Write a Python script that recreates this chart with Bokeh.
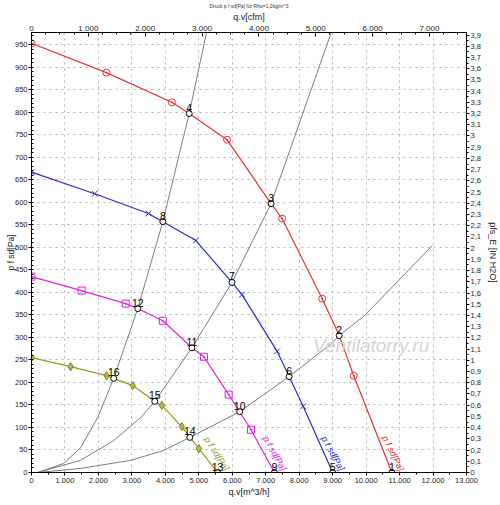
import math
from bokeh.plotting import figure
from bokeh.models import Range1d, LinearAxis, FixedTicker, Label
from bokeh.core.properties import value
from bokeh.embed import file_html
from bokeh.resources import INLINE

# ---- data (q_v in m^3/h, p in Pa) ----
red_q = [0, 2237, 4194, 4713, 5842, 7160, 7489, 8688, 9197, 9630, 10770]
red_p = [953, 888, 822, 797, 739, 597, 564, 386, 304, 215, 0]
red_mq = [0, 2237, 4194, 5842, 7489, 8688, 9630]
red_mp = [953, 888, 822, 739, 564, 386, 215]

blue_q = [0, 1887, 3495, 3925, 4913, 5992, 6291, 7340, 7699, 8119, 9000]
blue_p = [667, 619, 575, 557, 515, 422, 395, 269, 213, 147, 0]
blue_mq = [0, 1887, 3495, 4913, 6291, 7340, 8119]
blue_mp = [667, 619, 575, 515, 395, 269, 147]

mag_q = [0, 1498, 2816, 3176, 3925, 4793, 5153, 5892, 6222, 6561, 7260]
mag_p = [435, 404, 375, 364, 337, 277, 257, 173, 135, 95, 0]
mag_mq = [0, 1498, 2816, 3925, 5153, 5892, 6561]
mag_mp = [435, 404, 375, 337, 257, 173, 95]

olv_q = [0, 1168, 2247, 2457, 3026, 3685, 3895, 4493, 4733, 5003, 5560]
olv_p = [255, 235, 215, 209, 193, 158, 149, 102, 78, 53, 0]
olv_mq = [0, 1168, 2247, 3026, 3895, 4493, 5003]
olv_mp = [255, 235, 215, 193, 149, 102, 53]

# system curves (grey)
sysA_q = [180, 959, 1468, 1977, 2457, 3176, 3925, 4713, 5230]
sysA_p = [0, 20, 55, 122, 209, 364, 557, 797, 977]
sysB_q = [180, 1468, 2457, 3265, 3685, 4793, 5992, 7160, 8958]
sysB_p = [0, 27, 71, 122, 158, 277, 422, 597, 977]
sysC_q = [180, 1468, 2966, 3955, 4733, 6222, 7699, 8958, 9197, 9946, 10965, 11980]
sysC_p = [0, 9, 27, 49, 78, 135, 213, 286, 304, 348, 426, 504]

# operating points
pt_num = ["1", "2", "3", "4", "5", "6", "7", "8", "9", "10", "11", "12", "13", "14", "15", "16"]
pt_q = [10770, 9197, 7160, 4713, 9000, 7699, 5992, 3925, 7260, 6222, 4793, 3176, 5560, 4733, 3685, 2457]
pt_p = [0, 304, 597, 797, 0, 213, 422, 557, 0, 135, 277, 364, 0, 78, 158, 209]

# axes
x_ticks = [0, 1000, 2000, 3000, 4000, 5000, 6000, 7000, 8000, 9000, 10000, 11000, 12000, 13000]
x_labels = ["0", "1.000", "2.000", "3.000", "4.000", "5.000", "6.000", "7.000", "8.000",
            "9.000", "10.000", "11.000", "12.000", "13.000"]
cfm_ticks = [0, 1000, 2000, 3000, 4000, 5000, 6000, 7000]
cfm_labels = ["0", "1.000", "2.000", "3.000", "4.000", "5.000", "6.000", "7.000"]
y_ticks = [0, 50, 100, 150, 200, 250, 300, 350, 400, 450, 500, 550, 600, 650, 700, 750, 800, 850, 900, 950]
in_ticks = [0.0, 0.1, 0.2, 0.3, 0.4, 0.5, 0.6, 0.7, 0.8, 0.9, 1.0, 1.1, 1.2, 1.3, 1.4, 1.5, 1.6, 1.7, 1.8, 1.9,
            2.0, 2.1, 2.2, 2.3, 2.4, 2.5, 2.6, 2.7, 2.8, 2.9, 3.0, 3.1, 3.2, 3.3, 3.4, 3.5, 3.6, 3.7, 3.8, 3.9]
in_labels = ["0", "0,1", "0,2", "0,3", "0,4", "0,5", "0,6", "0,7", "0,8", "0,9",
             "1", "1,1", "1,2", "1,3", "1,4", "1,5", "1,6", "1,7", "1,8", "1,9",
             "2", "2,1", "2,2", "2,3", "2,4", "2,5", "2,6", "2,7", "2,8", "2,9",
             "3", "3,1", "3,2", "3,3", "3,4", "3,5", "3,6", "3,7", "3,8", "3,9"]

X_MAX = 13000
Y_MAX = 977
M3H_PER_CFM = 1.69901
PA_PER_INH2O = 249.089

FONT = "Liberation Sans"
RED = "#e8322e"
BLUE = "#2a2ad0"
MAG = "#e020e0"
OLV = "#9a9a1e"
GREY = "#7c7c7c"

p = figure(width=500, height=505, x_range=Range1d(0, X_MAX), y_range=Range1d(0, Y_MAX),
           output_backend="svg", toolbar_location=None,
           title="Druck p f sd[Pa] für Rho=1,2kg/m^3",
           min_border_left=31, min_border_right=34, min_border_top=32, min_border_bottom=33)
p.outline_line_color = "black"
p.outline_line_width = 1
p.background_fill_color = "white"
p.border_fill_color = "white"
p.title.text_font = FONT
p.title.text_font_size = "5px"
p.title.text_font_style = "normal"
p.title.text_color = "#333333"
p.title.align = "center"
p.title.standoff = 0
p.title.offset = 0

p.extra_x_ranges = {"cfm": Range1d(0, X_MAX / M3H_PER_CFM)}
p.extra_y_ranges = {"inh2o": Range1d(0, Y_MAX / PA_PER_INH2O)}


def style_axis(ax, label):
    ax.axis_line_color = "black"
    ax.major_tick_line_color = "black"
    ax.minor_tick_line_color = "black"
    ax.major_label_text_font = FONT
    ax.major_label_text_font_size = "7.5px"
    ax.major_label_text_color = "#222222"
    ax.major_label_standoff = 2
    ax.axis_label = label
    ax.axis_label_text_font = FONT
    ax.axis_label_text_font_size = "9px"
    ax.axis_label_text_font_style = "normal"
    ax.axis_label_text_color = "#222222"
    ax.axis_label_standoff = 2


xa = p.xaxis[0]
xa.ticker = FixedTicker(ticks=x_ticks, minor_ticks=list(range(0, 13001, 500)))
xa.major_label_overrides = dict(zip(x_ticks, x_labels))
style_axis(xa, "q.v[m^3/h]")
xa.major_tick_out = 3
xa.major_tick_in = 0
xa.minor_tick_out = 2
xa.minor_tick_in = 0
xa.axis_label_standoff = 1

ya = p.yaxis[0]
ya.ticker = FixedTicker(ticks=y_ticks, minor_ticks=list(range(0, 980, 10)))
style_axis(ya, "p f sd[Pa]")
ya.major_tick_out = 3
ya.major_tick_in = 0
ya.minor_tick_out = 0
ya.minor_tick_in = 2
ya.major_label_standoff = 1
ya.axis_label_standoff = -4
ya.axis_label_text_font_size = "8.5px"

top = LinearAxis(x_range_name="cfm")
top.ticker = FixedTicker(ticks=cfm_ticks, minor_ticks=list(range(0, 7700, 250)))
top.major_label_overrides = dict(zip(cfm_ticks, cfm_labels))
style_axis(top, "q.v[cfm]")
top.major_label_text_font_size = "8px"
top.major_tick_out = 0
top.major_tick_in = 4
top.minor_tick_out = 0
top.minor_tick_in = 2
top.major_label_standoff = 2
top.axis_label_standoff = 1
p.add_layout(top, "above")

right = LinearAxis(y_range_name="inh2o")
right.ticker = FixedTicker(ticks=in_ticks, minor_ticks=[i * 0.05 for i in range(0, 79)])
right.major_label_overrides = dict(zip(in_ticks, in_labels))
style_axis(right, "pfs_E [IN H2O]")
right.major_tick_out = 3
right.major_tick_in = 0
right.minor_tick_out = 2
right.minor_tick_in = 0
right.major_label_standoff = 1
right.axis_label_standoff = 4
right.axis_label_orientation = "vertical"
p.add_layout(right, "right")

p.xgrid.grid_line_color = "#b4b4b4"
p.xgrid.grid_line_dash = "2 4"
p.ygrid.grid_line_color = "#b4b4b4"
p.ygrid.grid_line_dash = "2 4"

# watermark
p.add_layout(Label(x=10150, y=282, text="Ventilatorry.ru", text_font=FONT, text_font_size="19px",
                   text_font_style="italic", text_color="#d4d4d4", text_align="center",
                   text_baseline="middle"))

# system curves
for q, pv in [(sysA_q, sysA_p), (sysB_q, sysB_p), (sysC_q, sysC_p)]:
    p.line(q, pv, line_color=GREY, line_width=1)

# fan curves
p.line(red_q, red_p, line_color=RED, line_width=1.2)
p.line(blue_q, blue_p, line_color=BLUE, line_width=1.2)
p.line(mag_q, mag_p, line_color=MAG, line_width=1.2)
p.line(olv_q, olv_p, line_color=OLV, line_width=1.2)

p.scatter(red_mq, red_mp, marker="circle_dot", size=7, line_color=RED, fill_color=None)
p.scatter(blue_mq, blue_mp, marker="x", size=8, line_color=BLUE)
p.scatter(mag_mq, mag_mp, marker="square_dot", size=7, line_color=MAG, fill_color=None)
p.scatter(olv_mq, olv_mp, marker="diamond", size=8, line_color="#7f7f10", fill_color="#b8b84a")

# curve labels along the ends
ends_q = [red_q[-1], blue_q[-1], mag_q[-1], olv_q[-1]]
ends_p = [red_p[-1], blue_p[-1], mag_p[-1], olv_p[-1]]
ang = [-64, -61, -61, -58]
for q0, p0, a, c in zip(ends_q, ends_p, ang, [RED, BLUE, MAG, OLV]):
    p.text(x=[q0], y=[p0], text=["p f sd[Pa]"], angle=a * math.pi / 180, x_offset=5,
           text_align="right", text_baseline="bottom", text_color=c,
           text_font=value(FONT), text_font_size="9px", text_font_style="italic")

# operating points
p.scatter(pt_q, pt_p, marker="circle", size=6, line_color="black", fill_color="white", line_width=1)
p.text(x=pt_q, y=pt_p, text=pt_num, text_align="center", text_baseline="bottom", y_offset=-2,
       text_font=value(FONT), text_font_size="10.5px", text_color="black")

open("out.html", "w").write(file_html(p, INLINE))
